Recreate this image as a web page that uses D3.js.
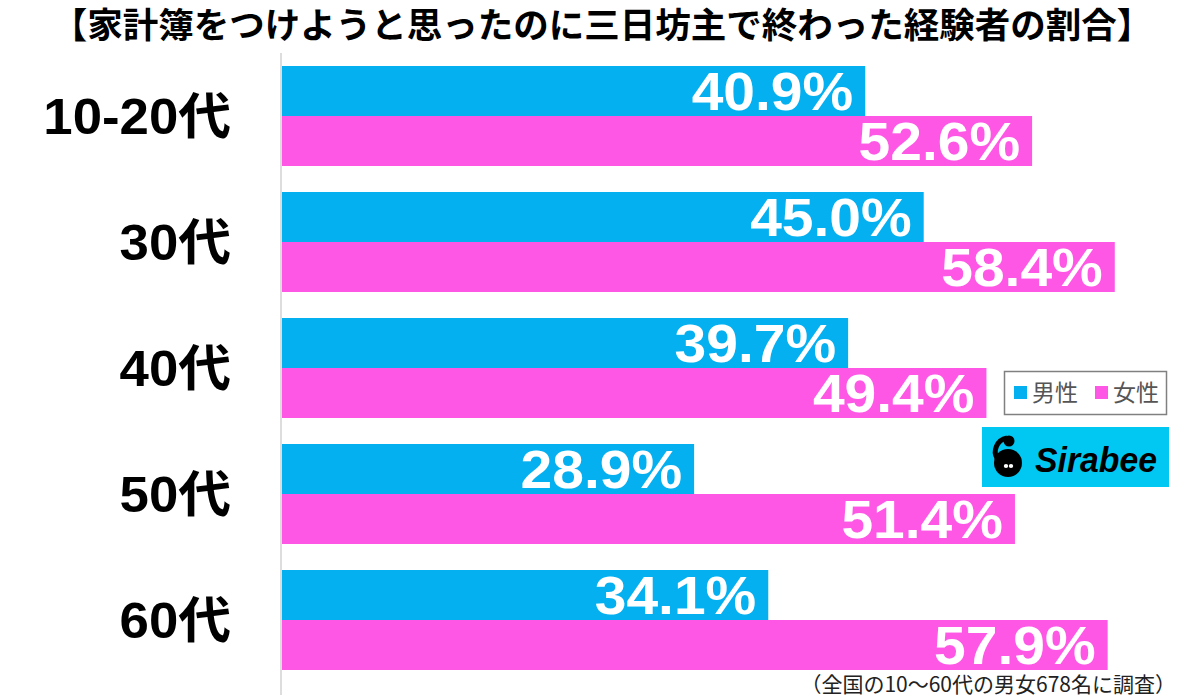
<!DOCTYPE html>
<html>
<head>
<meta charset="utf-8">
<script src="https://cdn.jsdelivr.net/npm/d3@7"></script>
<style>
  body { margin: 0; background: #fff; }
  svg { display: block; }
</style>
</head>
<body>
<div id="chart"></div>
<script>
// data
var categories = ["10-20代", "30代", "40代", "50代", "60代"];
var series = ["男性", "女性"];
var male = [40.9, 45.0, 39.7, 28.9, 34.1];
var female = [52.6, 58.4, 49.4, 51.4, 57.9];
var title = "【家計簿をつけようと思ったのに三日坊主で終わった経験者の割合】";
var note = "（全国の10〜60代の男女678名に調査）";

var width = 1200, height = 699;
var colors = {"男性": "#04b0f0", "女性": "#ff57e5"};

var rows = [];
categories.forEach(function(c, i){
    rows.push({cat: c, s: "男性", v: male[i]});
    rows.push({cat: c, s: "女性", v: female[i]});
});

var svg = d3.select("#chart").append("svg")
    .attr("width", width).attr("height", height);

// stretch a text a bit wider (the original font is wider than Liberation)
function widen(sel, k){
    sel.each(function(){
        var len = this.getComputedTextLength();
        d3.select(this).attr("textLength", len * k).attr("lengthAdjust", "spacingAndGlyphs");
    });
}

// scales
var y = d3.scaleBand().domain(categories).range([53, 683]);
var ySub = d3.scaleBand().domain(series).range([0, y.bandwidth()]).paddingOuter(0.26);
var x = d3.scaleLinear().domain([0, 100]).range([282, 282 + 1426]);

// title
svg.append("text")
    .attr("x", width / 2 + 2).attr("y", 38)
    .attr("text-anchor", "middle")
    .attr("font-family", "'Noto Sans CJK JP', sans-serif")
    .attr("font-weight", "bold")
    .attr("font-size", 35.5)
    .attr("fill", "#000")
    .text(title);

// axis line
svg.append("line")
    .attr("x1", x(0) - 1).attr("x2", x(0) - 1)
    .attr("y1", 53).attr("y2", 695)
    .attr("stroke", "#dddddd").attr("stroke-width", 2);

// bars
svg.selectAll(".bar").data(rows).enter().append("rect")
    .attr("class", "bar")
    .attr("x", x(0))
    .attr("y", function(d){ return y(d.cat) + ySub(d.s); })
    .attr("width", function(d){ return x(d.v) - x(0); })
    .attr("height", ySub.bandwidth())
    .attr("fill", function(d){ return colors[d.s]; });

// value labels
var vals = svg.selectAll(".val").data(rows).enter().append("text")
    .attr("class", "val")
    .attr("x", function(d){ return x(d.v) - 12; })
    .attr("y", function(d){ return y(d.cat) + ySub(d.s) + ySub.bandwidth() / 2 + 19; })
    .attr("text-anchor", "end")
    .attr("font-family", "'Liberation Sans', Arial, sans-serif")
    .attr("font-weight", "bold")
    .attr("font-size", 53)
    .attr("fill", "#fff")
    .text(function(d){ return d.v.toFixed(1) + "%"; });
widen(vals, 1.075);

// category labels
var cats = svg.selectAll(".cat").data(categories).enter().append("text")
    .attr("class", "cat")
    .attr("x", 231)
    .attr("y", function(d){ return y(d) + y.bandwidth() / 2 + 18; })
    .attr("text-anchor", "end")
    .attr("font-family", "'Liberation Sans', 'Noto Sans CJK JP', sans-serif")
    .attr("font-weight", "bold")
    .attr("font-size", 50)
    .attr("fill", "#000")
    .text(function(d){ return d; });
widen(cats, 1.055);

// legend
var lg = svg.append("g");
lg.append("rect")
    .attr("x", 1004.5).attr("y", 371.5).attr("width", 162).attr("height", 43)
    .attr("fill", "#fff").attr("stroke", "#808080").attr("stroke-width", 1.5);
var lx = [1014, 1095];
series.forEach(function(s, i){
    lg.append("rect")
        .attr("x", lx[i]).attr("y", 386).attr("width", 13).attr("height", 13)
        .attr("fill", colors[s]);
    lg.append("text")
        .attr("x", lx[i] + 18).attr("y", 401)
        .attr("font-family", "'Noto Sans CJK JP', sans-serif")
        .attr("font-size", 23)
        .attr("fill", "#555")
        .text(s);
});

// Sirabee logo
var logo = svg.append("g");
logo.append("rect")
    .attr("x", 982).attr("y", 427).attr("width", 187).attr("height", 60)
    .attr("fill", "#00c8f2");
logo.append("circle").attr("cx", 1008).attr("cy", 463).attr("r", 14).attr("fill", "#000");
logo.append("circle").attr("cx", 1009).attr("cy", 441).attr("r", 5.5).attr("fill", "#000");
logo.append("path")
    .attr("d", "M1007,438 C996,440 993,452 997,458")
    .attr("stroke", "#000").attr("stroke-width", 5).attr("fill", "none");
logo.append("ellipse").attr("cx", 1006).attr("cy", 466).attr("rx", 2.2).attr("ry", 2).attr("fill", "#fff");
logo.append("ellipse").attr("cx", 1011).attr("cy", 466).attr("rx", 2.2).attr("ry", 2).attr("fill", "#fff");
logo.append("text")
    .attr("x", 1035).attr("y", 472)
    .attr("font-family", "'Liberation Sans', sans-serif")
    .attr("font-weight", "bold").attr("font-style", "italic")
    .attr("font-size", 35)
    .attr("textLength", 122).attr("lengthAdjust", "spacingAndGlyphs")
    .attr("fill", "#000")
    .text("Sirabee");

// footnote
svg.append("text")
    .attr("x", 1176).attr("y", 692)
    .attr("text-anchor", "end")
    .attr("font-family", "'Noto Sans CJK JP', sans-serif")
    .attr("font-size", 21)
    .attr("fill", "#222")
    .text(note);
</script>
</body>
</html>
